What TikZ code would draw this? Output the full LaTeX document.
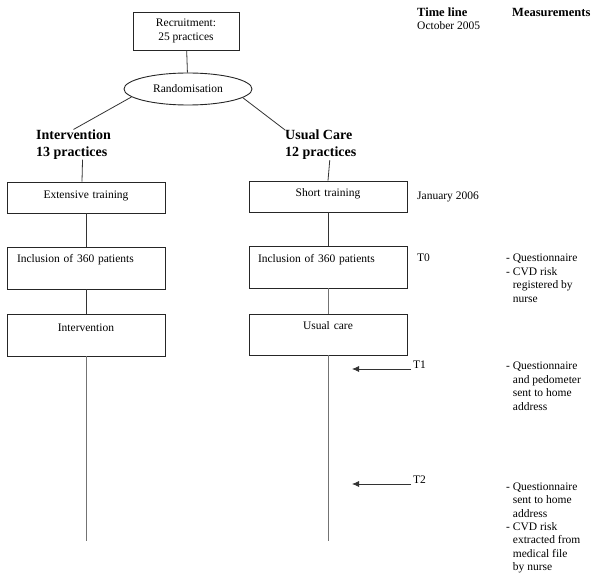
\documentclass[tikz,border=0pt]{standalone}
\usepackage{fontspec}
\setmainfont{Liberation Serif}
\usetikzlibrary{arrows.meta,shapes.geometric}
\begin{document}
\begin{tikzpicture}[x=1pt,y=-1pt,
  every node/.style={inner sep=0pt},
  txt/.style={font=\fontsize{11.5}{13.8}\selectfont},
  hdr/.style={font=\fontsize{12.5}{14}\selectfont\bfseries},
  grp/.style={font=\fontsize{14}{17}\selectfont\bfseries, align=left},
  cbox/.style={txt, draw=black!85, line width=0.9pt, rectangle, text width=158pt, align=center},
  lbox/.style={txt, draw=black!85, line width=0.9pt, rectangle, inner xsep=10pt, text width=138pt, align=left},
  conn/.style={line width=0.8pt, draw=black!80},
  longl/.style={line width=0.9pt, draw=black!55},
  meas/.style={txt, align=left, anchor=north west},
  tl/.style={txt, anchor=west},
  arr/.style={line width=0.8pt, draw=black!80, -{Latex[length=7pt,width=6pt]}}]
\useasboundingbox (0,0) rectangle (600,580);

% top part
\node[txt, draw=black!85, line width=0.9pt, rectangle, minimum width=106pt, minimum height=38pt, align=center,
  font=\fontsize{11.5}{14}\selectfont] (rec) at (186,31) {Recruitment:\\25 practices};
\node[txt, draw=black!85, line width=0.9pt, ellipse, minimum width=128pt, minimum height=32pt] (rand) at (188,89) {Randomisation};
\draw[conn] (rec) -- (rand);

\node[grp, anchor=west] (intlab) at (36,144.5) {Intervention\\13 practices};
\node[grp, anchor=west] (uclab) at (285,145) {Usual Care\\12 practices};
\draw[conn] (rand.188) -- (intlab.north);
\draw[conn] (rand.351) -- (uclab.north west);

% left column
\node[cbox, text height=17pt, text depth=14pt] (ext) at (86,197.5) {Extensive training};
\node[lbox, text height=16pt, text depth=26pt] (incL) at (86,268) {Inclusion of 360 patients};
\node[cbox, text height=17pt, text depth=25pt] (intv) at (86,335) {Intervention};
\coordinate (endL) at (86,541);
\draw[conn] ([xshift=9pt]intlab.south) -- ([xshift=-4pt]ext.north);
\draw[conn] (ext) -- (incL);
\draw[conn] (incL) -- (intv);
\draw[longl] (intv) -- (endL);

% right column
\node[cbox, text height=16pt, text depth=15pt] (short) at (328,196.5) {Short training};
\node[lbox, inner xsep=9pt, text width=140pt, text height=16pt, text depth=26pt] (incR) at (328,267) {Inclusion of 360 patients};
\node[cbox, text height=16pt, text depth=25pt] (uc) at (328,334.5) {Usual care};
\coordinate (endR) at (328,541);
\draw[conn] ([xshift=9pt]uclab.south) -- (short.north);
\draw[conn] (short) -- (incR);
\draw[longl] (incR) -- (uc);
\draw[longl] (uc) -- (endR);

% time line
\node[hdr, anchor=west] (tlh) at (417,12) {Time line};
\node[hdr, anchor=west] (mh) at (512,12) {Measurements};
\node[tl] (oct) at (417,25.5) {October 2005};
\node[tl] (jan) at (417,197) {January 2006};
\node[tl] (t0) at (417,258) {T0};
\node[tl] (t1) at (413,365) {T1};
\node[tl] (t2) at (413,480) {T2};
\coordinate (a1) at (352,369);
\coordinate (a2) at (352,484);
\draw[arr] ([xshift=-2pt,yshift=-4pt]t1.west) -- (a1);
\draw[arr] ([xshift=-2pt,yshift=-4pt]t2.west) -- (a2);

% measurements
\node[meas] (m0) at (506,253.5) {- Questionnaire\\- CVD risk\\\phantom{- }registered by\\\phantom{- }nurse};
\node[meas] (m1) at (506,361.5) {- Questionnaire\\\phantom{- }and pedometer\\\phantom{- }sent to home\\\phantom{- }address};
\node[meas, font=\fontsize{11.5}{13.4}\selectfont] (m2) at (506,482.5) {- Questionnaire\\\phantom{- }sent to home\\\phantom{- }address\\- CVD risk\\\phantom{- }extracted from\\\phantom{- }medical file\\\phantom{- }by nurse};
\end{tikzpicture}
\end{document}
